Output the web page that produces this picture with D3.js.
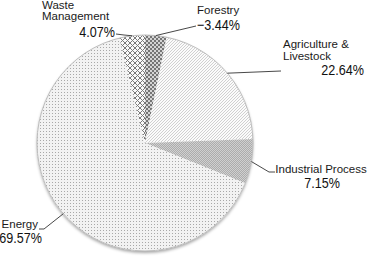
<!DOCTYPE html>
<html><head><meta charset="utf-8">
<script src="https://cdn.jsdelivr.net/npm/d3@7/dist/d3.min.js"></script>
<style>html,body{margin:0;padding:0;background:#fff;}svg{display:block;}</style>
</head><body>
<script>
const categories = ["Forestry", "Agriculture & Livestock", "Industrial Process", "Energy", "Waste Management"];
const values = [-3.44, 22.64, 7.15, 69.57, 4.07];
const pctLabels = ["\u22123.44%", "22.64%", "7.15%", "69.57%", "4.07%"];
const nameLines = [["Forestry"], ["Agriculture &", "Livestock"], ["Industrial Process"], ["Energy"], ["Waste", "Management"]];

const W = 368, H = 258, cx = 145, cy = 143, R = 108;
const svg = d3.select("body").append("svg").attr("width", W).attr("height", H);
const defs = svg.append("defs");

const pats = ["pForest", "pAgri", "pInd", "pEnergy", "pWaste"];
let p = defs.append("pattern").attr("id", "pForest").attr("width", 4).attr("height", 4).attr("patternUnits", "userSpaceOnUse");
p.append("rect").attr("width", 4).attr("height", 4).attr("fill", "#d4d4d4");
p.append("path").attr("d", "M0,0L4,4M4,0L0,4").attr("stroke", "#6a6a6a").attr("stroke-width", 0.9);

p = defs.append("pattern").attr("id", "pAgri").attr("width", 3).attr("height", 3).attr("patternUnits", "userSpaceOnUse");
p.append("rect").attr("width", 3).attr("height", 3).attr("fill", "#fbfbfb");
p.append("path").attr("d", "M-1,1L1,-1M0,3L3,0M2,4L4,2").attr("stroke", "#bdbdbd").attr("stroke-width", 0.7);

p = defs.append("pattern").attr("id", "pInd").attr("width", 2).attr("height", 2).attr("patternUnits", "userSpaceOnUse");
p.append("rect").attr("width", 2).attr("height", 2).attr("fill", "#acacac");
p.append("rect").attr("width", 1).attr("height", 1).attr("fill", "#d0d0d0");
p.append("rect").attr("x", 1).attr("y", 1).attr("width", 1).attr("height", 1).attr("fill", "#d0d0d0");

p = defs.append("pattern").attr("id", "pEnergy").attr("width", 3).attr("height", 3).attr("patternUnits", "userSpaceOnUse");
p.append("rect").attr("width", 3).attr("height", 3).attr("fill", "#f2f2f2");
p.append("rect").attr("width", 1).attr("height", 1).attr("fill", "#a8a8a8");

p = defs.append("pattern").attr("id", "pWaste").attr("width", 5).attr("height", 5).attr("patternUnits", "userSpaceOnUse");
p.append("rect").attr("width", 5).attr("height", 5).attr("fill", "#fafafa");
p.append("path").attr("d", "M0,0L5,5M5,0L0,5").attr("stroke", "#7a7a7a").attr("stroke-width", 1);

const f = defs.append("filter").attr("id", "shadow").attr("x", "-20%").attr("y", "-20%").attr("width", "140%").attr("height", "140%");
f.append("feDropShadow").attr("dx", 0).attr("dy", 2).attr("stdDeviation", 1.8).attr("flood-color", "#000").attr("flood-opacity", 0.35);

const pie = d3.pie().sort(null).value(d => Math.abs(d));
const arcs = pie(values);
const arc = d3.arc().innerRadius(0).outerRadius(R);

const g = svg.append("g").attr("transform", `translate(${cx},${cy})`);
g.append("circle").attr("r", R).attr("fill", "#fff").attr("filter", "url(#shadow)");
g.selectAll("path.slice").data(arcs).join("path").attr("class", "slice")
  .attr("d", arc).attr("fill", (d, i) => `url(#${pats[i]})`);
g.append("circle").attr("r", R).attr("fill", "none").attr("stroke", "#bdbdbd").attr("stroke-width", 1);

const layout = [
  { anchor: "start", nx: 197, ny: [14], px: 197, py: 30, leader: [[196, 26]] },
  { anchor: "start", nx: 283, ny: [48, 60], px: 364, pa: "end", py: 75, leader: [[281, 71]] },
  { anchor: "middle", nx: 321, ny: [173], px: 322, py: 188, leader: [[275, 172], [269, 172]] },
  { anchor: "end", nx: 38, ny: [228], px: 42, py: 243, leader: [[39, 229], [44, 229]] },
  { anchor: "start", nx: 42, ny: [9, 20], px: 115, pa: "end", py: 37, leader: [[116, 34], [124, 35]] }
];

const tg = svg.append("g");
arcs.forEach((d, i) => {
  const L = layout[i];
  const a = (d.startAngle + d.endAngle) / 2;
  const ex = cx + R * Math.sin(a), ey = cy - R * Math.cos(a);
  const pts = L.leader.concat([[ex, ey]]);
  tg.append("path").attr("d", d3.line()(pts)).attr("fill", "none").attr("stroke", "#333").attr("stroke-width", 0.9);
  nameLines[i].forEach((t, k) => {
    tg.append("text").attr("x", L.nx).attr("y", L.ny[k]).attr("text-anchor", L.anchor)
      .attr("font-family", "Liberation Sans, Arial, sans-serif").attr("font-size", 11.5).attr("fill", "#1a1a1a").text(t);
  });
  tg.append("g").attr("transform", `translate(${L.px},${L.py}) scale(0.84,1)`)
    .append("text").attr("x", 0).attr("y", 0).attr("text-anchor", L.pa || L.anchor)
    .attr("font-family", "Liberation Sans, Arial, sans-serif").attr("font-size", 15).attr("fill", "#111").text(pctLabels[i]);
});
</script>
</body></html>
